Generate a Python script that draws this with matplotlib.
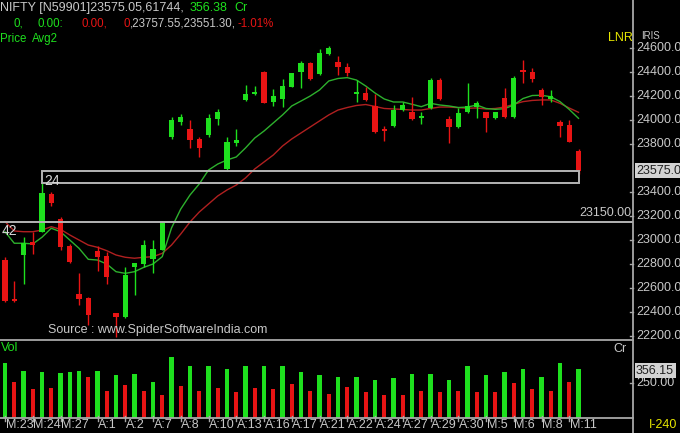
import matplotlib
matplotlib.use('Agg')
import matplotlib.pyplot as plt
from matplotlib.patches import Rectangle
from matplotlib.lines import Line2D

plt.rcParams['font.family'] = ['Liberation Sans', 'DejaVu Sans']

# ---------------- data ----------------
opens = [22833, 22500, 22875, 22986, 23069, 23381, 23172, 22953, 22547, 22514,
         22911, 22867, 22389, 22361, 22772, 22800, 22839, 22917, 23856, 23986,
         23922, 23842, 23875, 24008, 23592, 23806, 24167, 24214, 24397, 24153,
         24175, 24278, 24397, 24472, 24381, 24550, 24481, 24439, 24214, 24228,
         24117, 23922, 23950, 24081, 24064, 24014, 24097, 24333, 24006, 23939,
         24069, 24106, 24064, 24014, 24186, 24022, 24411, 24403, 24250, 24175,
         23981, 23958, 23740]
highs = [22858, 22661, 23022, 23069, 23478, 23398, 23194, 22967, 22722, 22522,
         22950, 22903, 22395, 22778, 22810, 23000, 23000, 23158, 24022, 24048,
         24000, 23856, 24050, 24092, 23856, 23922, 24292, 24283, 24411, 24256,
         24339, 24395, 24494, 24480, 24589, 24617, 24533, 24472, 24333, 24278,
         24214, 23950, 24125, 24153, 24194, 24069, 24353, 24347, 24033, 24097,
         24306, 24161, 24070, 24070, 24264, 24369, 24500, 24431, 24264, 24250,
         24000, 24000, 23757.55]
lows = [22483, 22483, 22633, 22883, 23064, 23286, 22917, 22810, 22458, 22292,
        22744, 22633, 22194, 22347, 22542, 22778, 22728, 22917, 23842, 23958,
        23769, 23694, 23861, 23958, 23575, 23783, 24161, 24208, 24139, 24117,
        24111, 24272, 24264, 24330, 24375, 24545, 24375, 24369, 24153, 24160,
        23889, 23825, 23945, 24075, 24000, 23967, 24090, 24165, 23806, 23932,
        24062, 24019, 23897, 24005, 24015, 24015, 24306, 24314, 24125, 24147,
        23861, 23815, 23551.30]
closes = [22494, 22489, 22977, 22958, 23389, 23306, 22939, 22819, 22506, 22375,
          22856, 22694, 22361, 22708, 22806, 22958, 22922, 23139, 24000, 24028,
          23833, 23764, 24014, 24069, 23819, 23833, 24217, 24231, 24144, 24200,
          24283, 24389, 24478, 24339, 24556, 24597, 24439, 24389, 24228, 24167,
          23903, 23908, 24083, 24125, 24008, 24028, 24333, 24172, 23939, 24056,
          24119, 24139, 24014, 24064, 24022, 24353, 24403, 24342, 24194, 24203,
          23953, 23819, 23575.05]

avg_fast = [23069, 22973, 22973, 22967, 23023, 23098, 23069, 23000, 22931, 22839,
            22833, 22800, 22736, 22722, 22736, 22772, 22800, 22861, 23100, 23258,
            23375, 23467, 23583, 23633, 23667, 23692, 23767, 23850, 23908, 23975,
            24042, 24117, 24158, 24200, 24250, 24325, 24346, 24353, 24333, 24283,
            24225, 24175, 24150, 24150, 24131, 24111, 24139, 24125, 24117, 24104,
            24108, 24125, 24096, 24089, 24094, 24125, 24179, 24204, 24206, 24194,
            24153, 24088, 24014]
avg_slow = [23153, 23075, 23069, 23069, 23083, 23111, 23089, 23042, 23000, 22958,
            22939, 22911, 22875, 22856, 22848, 22856, 22861, 22889, 22958, 23050,
            23150, 23233, 23300, 23367, 23417, 23458, 23517, 23592, 23650, 23708,
            23783, 23842, 23892, 23942, 23992, 24042, 24083, 24104, 24121, 24129,
            24113, 24096, 24092, 24088, 24083, 24083, 24096, 24108, 24108, 24103,
            24098, 24100, 24092, 24096, 24108, 24131, 24153, 24163, 24167, 24167,
            24139, 24100, 24064]

volumes = [402, 260, 345, 208, 333, 218, 326, 338, 345, 301,
           345, 196, 311, 240, 318, 196, 260, 169, 443, 233,
           375, 196, 375, 218, 360, 184, 382, 218, 375, 208,
           375, 245, 338, 196, 311, 174, 301, 223, 301, 189,
           279, 167, 294, 167, 323, 196, 323, 189, 279, 196,
           375, 184, 316, 184, 331, 252, 353, 208, 301, 196,
           402, 260, 356.15]
vol_colors = ['G', 'R', 'G', 'R', 'G', 'R', 'G', 'G', 'G', 'R',
              'G', 'R', 'G', 'R', 'G', 'R', 'G', 'R', 'G', 'R',
              'G', 'R', 'G', 'R', 'G', 'R', 'G', 'R', 'G', 'R',
              'G', 'R', 'G', 'R', 'G', 'R', 'G', 'R', 'G', 'R',
              'G', 'R', 'G', 'R', 'G', 'R', 'G', 'R', 'G', 'R',
              'G', 'R', 'G', 'R', 'G', 'R', 'G', 'R', 'G', 'R',
              'G', 'R', 'G']

tick_idx = [0, 3, 6, 10, 13, 16, 19, 22, 25, 28, 31, 34, 37, 40, 43, 46, 49, 52, 55, 58, 61]
tick_labels = ["M:23", "M:24", "M:27", "A:1", "A:2", "A:7", "A:8", "A:10", "A:13", "A:16",
               "A:17", "A:21", "A:22", "A:24", "A:27", "A:29", "A:30", "M:5", "M:6", "M:8", "M:11"]
price_ticks = [24600, 24400, 24200, 24000, 23800, 23400, 23200, 23000, 22800, 22600, 22400, 22200]

level_line = 23150.00
zone_low, zone_high = 23478, 23575.05
zone_start, zone_end = 4, 62

# ---------------- style ----------------
GREEN = '#1EE01E'
RED = '#E81414'
MA_G = '#2DB02D'
MA_R = '#B02020'
GREY = '#C8C8C8'
LINEC = '#B4B4B4'
FS = 9
FS2 = 8.3

W, H = 680, 433
fig = plt.figure(figsize=(6.8, 4.33), dpi=100, facecolor='black')

def fx(x):
    return x / W

def fy(y):
    return 1 - y / H

def px_price(y):
    return 24600 - (y - 48) / 0.12

n = len(closes)
xl = (-5 / 9.25, (633 - 5) / 9.25)

ax = fig.add_axes([0, fy(339.5), fx(633), 1 - fy(339.5)])
ax.set_facecolor('black')
ax.set_xlim(*xl)
ax.set_ylim(px_price(339.5), px_price(0))
for s in ax.spines.values():
    s.set_visible(False)
ax.set_xticks([])
ax.set_yticks([])

xs = list(range(n))
# moving averages
ax.plot(xs, avg_slow, color=MA_R, lw=1.0, zorder=2)
ax.plot(xs, avg_fast, color=MA_G, lw=1.0, zorder=2)

# candles
for i in xs:
    o, h, l, c = opens[i], highs[i], lows[i], closes[i]
    col = GREEN if c >= o else RED
    ax.vlines(i, l, h, color=col, lw=1.0, zorder=3)
    bot = min(o, c)
    ht = max(abs(c - o), 16)
    ax.bar(i, ht, bottom=bot, width=0.58, color=col, linewidth=0, zorder=3)

# level line and zone
ax.axhline(level_line, color=LINEC, lw=1.4, zorder=4)
ax.add_patch(Rectangle((zone_start, zone_low), zone_end - zone_start, zone_high - zone_low,
                       fill=False, edgecolor=LINEC, lw=1.4, zorder=4))

# volume panel
axv = fig.add_axes([0, fy(417.5), fx(633), fy(340.5) - fy(417.5)])
axv.set_facecolor('black')
axv.set_xlim(*xl)
axv.set_ylim(0, 566)
for s in axv.spines.values():
    s.set_visible(False)
axv.set_xticks([])
axv.set_yticks([])
axv.bar(xs, volumes, width=0.45, color=[GREEN if c == 'G' else RED for c in vol_colors], linewidth=0)

# frame lines
def fline(x0, y0, x1, y1, **kw):
    fig.add_artist(Line2D([fx(x0), fx(x1)], [fy(y0), fy(y1)], transform=fig.transFigure, **kw))

fline(633, 0, 633, 433, color='#A8A8A8', lw=1.3)
fline(0, 339.5, 633, 339.5, color='#A8A8A8', lw=1.3)
fline(0, 417.8, 633, 417.8, color='#A8A8A8', lw=1.3)

# right price labels
for p in price_ticks:
    y = 48 + (24600 - p) * 0.12
    fline(630, y, 633, y, color='#A8A8A8', lw=1)
    fig.text(fx(636), fy(y), f"{p:.2f}", color=GREY, fontsize=FS, va='center', ha='left')

# current price box
yb = 48 + (24600 - closes[-1]) * 0.12
fig.text(fx(636), fy(yb), f"{closes[-1]:.2f}", color='#202020', fontsize=FS, va='center', ha='left',
         bbox=dict(boxstyle='square,pad=0.12', fc='#D2D2D2', ec='none'))
# level label
fig.text(fx(631), fy(213), f"{level_line:.2f}", color=GREY, fontsize=FS, va='center', ha='right')

# volume axis labels
fig.text(fx(636), fy(383), "250.00", color=GREY, fontsize=FS, va='center', ha='left')
fline(630, 383, 633, 383, color='#A8A8A8', lw=1)
fig.text(fx(636), fy(370.5), f"{volumes[-1]:.2f}", color='#202020', fontsize=FS, va='center', ha='left',
         bbox=dict(boxstyle='square,pad=0.12', fc='#D2D2D2', ec='none'))
fig.text(fx(613), fy(349), "Cr", color=GREY, fontsize=FS, va='center', ha='left')
fig.text(fx(1), fy(348), "Vol", color=GREEN, fontsize=FS, va='center', ha='left')

# time axis
for idx, lab in zip(tick_idx, tick_labels):
    x = 5 + 9.25 * idx
    fline(x, 416, x, 421, color='#A8A8A8', lw=1)
    fig.text(fx(x + 0.5), fy(425.5), lab, color=GREY, fontsize=FS, va='center', ha='left')
fig.text(fx(649), fy(425.5), "I-240", color='#E6E600', fontsize=FS, va='center', ha='left')

# header
fig.text(fx(0), fy(8), "NIFTY [N59901]23575.05,61744,", color=GREY, fontsize=FS, va='center')
fig.text(fx(190), fy(8), "356.38", color=GREEN, fontsize=FS, va='center')
fig.text(fx(234), fy(8), "Cr", color=GREEN, fontsize=FS, va='center')
fig.text(fx(13), fy(24), "0,", color=GREEN, fontsize=FS2, va='center')
fig.text(fx(38), fy(24), "0.00:", color=GREEN, fontsize=FS2, va='center')
fig.text(fx(82), fy(24), "0.00,", color=RED, fontsize=FS2, va='center')
fig.text(fx(124), fy(24), "0", color=RED, fontsize=FS2, va='center')
fig.text(fx(130), fy(24), ",23757.55,23551.30,", color=GREY, fontsize=FS2, va='center')
fig.text(fx(238), fy(24), "-1.01%", color=RED, fontsize=FS2, va='center')
fig.text(fx(0), fy(39), "Price", color=GREEN, fontsize=FS2, va='center')
fig.text(fx(32), fy(39), "Avg2", color=GREEN, fontsize=FS2, va='center')
fig.text(fx(608), fy(38), "LNR", color='#E6E600', fontsize=FS, va='center')
fig.text(fx(641), fy(36), "IRIS", color=GREY, fontsize=7, va='center')

# annotations
fig.text(fx(2), fy(231), "42", color='#D8D8D8', fontsize=FS + 1, va='center')
fig.text(fx(44), fy(181), "24", color='#D8D8D8', fontsize=FS + 1, va='center')
fig.text(fx(48), fy(330), "Source : www.SpiderSoftwareIndia.com", color=GREY, fontsize=FS, va='center')

fig.savefig('out.png', dpi=100, facecolor='black')
